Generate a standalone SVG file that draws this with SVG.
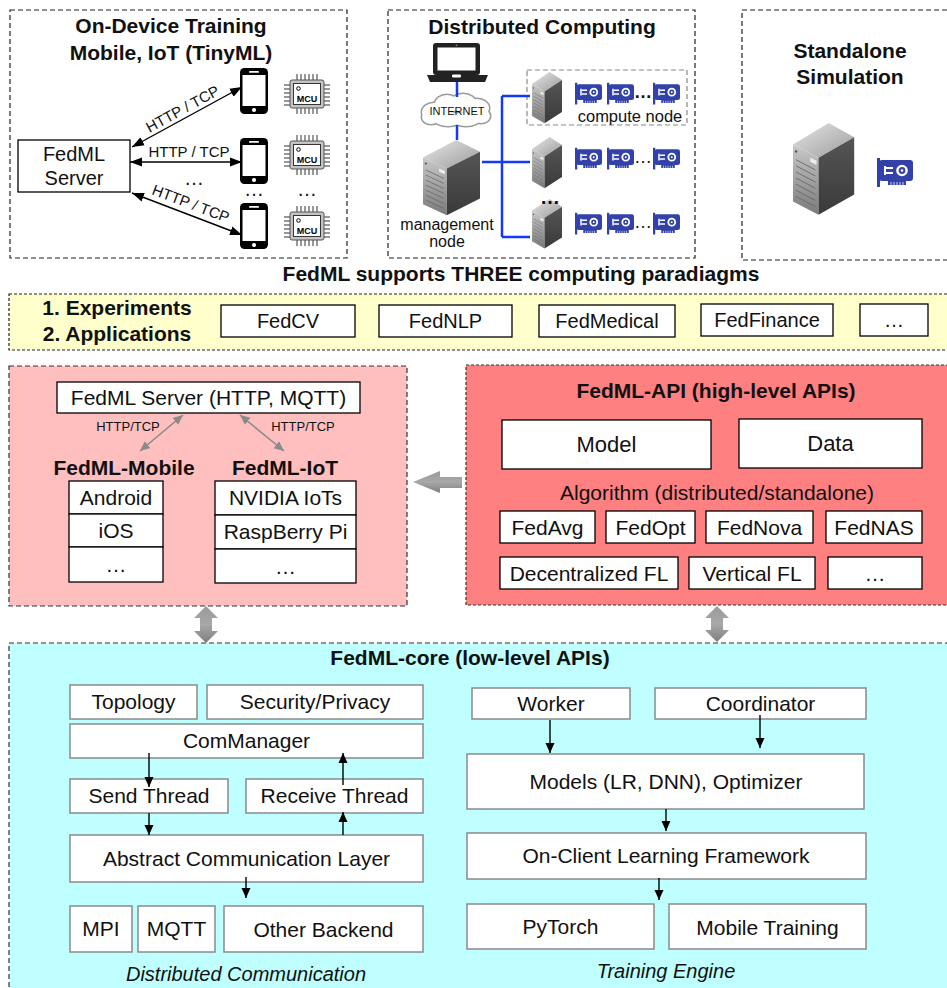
<svg xmlns="http://www.w3.org/2000/svg" xmlns:xlink="http://www.w3.org/1999/xlink" width="947" height="988" viewBox="0 0 947 988">
<style>
.dash{fill:none;stroke:#222;stroke-width:1.2;stroke-dasharray:5 3}
.box{fill:#fff;stroke:#000;stroke-width:1.3}
.gbox{fill:#fff;stroke:#8a8a8a;stroke-width:1.5}
.t{font-family:"Liberation Sans",Arial,Helvetica,sans-serif;font-size:21px;text-anchor:middle;fill:#111}
.s{font-size:16px}
.b{font-weight:bold}
.i{font-style:italic}
.blue{stroke:#1238ff;stroke-width:2.5;fill:none}
.ar{stroke:#000;stroke-width:1.4;fill:none}
.ga{stroke:#8a8a8a;stroke-width:1.6;fill:none}
.big{fill:url(#grayG);stroke:#7a7a7a;stroke-width:0.8}
</style>
<defs>
<marker id="ah" viewBox="0 0 10 10" refX="10" refY="5" markerWidth="10" markerHeight="10" markerUnits="userSpaceOnUse" orient="auto-start-reverse"><path d="M0,0.5 L10,5 L0,9.5 z" fill="#000"/></marker>
<marker id="ah2" viewBox="0 0 12 10" refX="12" refY="5" markerWidth="12" markerHeight="10" markerUnits="userSpaceOnUse" orient="auto-start-reverse"><path d="M0,0.5 L12,5 L0,9.5 z" fill="#000"/></marker>
<marker id="gh" viewBox="0 0 10 10" refX="10" refY="5" markerWidth="10" markerHeight="10" markerUnits="userSpaceOnUse" orient="auto-start-reverse"><path d="M0,0.5 L10,5 L0,9.5 z" fill="#8a8a8a"/></marker>
<linearGradient id="grayG" x1="0" y1="0" x2="0" y2="1"><stop offset="0" stop-color="#b4b4b4"/><stop offset="1" stop-color="#868686"/></linearGradient>
<linearGradient id="grayH" x1="0" y1="0" x2="0" y2="1"><stop offset="0" stop-color="#9a9a9a"/><stop offset="0.5" stop-color="#a8a8a8"/><stop offset="1" stop-color="#7e7e7e"/></linearGradient>
<linearGradient id="srvTop" x1="0" y1="0" x2="1" y2="1"><stop offset="0" stop-color="#e6e6e6"/><stop offset="1" stop-color="#9c9c9c"/></linearGradient>
<linearGradient id="srvFront" x1="0" y1="0" x2="0" y2="1"><stop offset="0" stop-color="#c8c8c8"/><stop offset="1" stop-color="#7a7a7a"/></linearGradient>
<linearGradient id="srvSide" x1="0" y1="0" x2="0" y2="1"><stop offset="0" stop-color="#555"/><stop offset="1" stop-color="#3a3a3a"/></linearGradient>
<g id="server">
<path d="M0,21 L35,0 L60,14 L25,34 Z" fill="url(#srvTop)"/>
<path d="M0,21 L25,34 L25,90 L0,77 Z" fill="url(#srvFront)"/>
<path d="M25,34 L60,14 L60,70 L25,90 Z" fill="url(#srvSide)"/>
<g stroke="#6a6a6a" stroke-width="0.9">
<line x1="3" y1="36" x2="22" y2="46"/><line x1="3" y1="42" x2="22" y2="52"/><line x1="3" y1="48" x2="22" y2="58"/><line x1="3" y1="54" x2="22" y2="64"/><line x1="3" y1="60" x2="22" y2="70"/><line x1="3" y1="66" x2="22" y2="76"/><line x1="3" y1="72" x2="22" y2="82"/>
</g>
<path d="M17,34 L23,37 L23,41 L17,38 Z" fill="#eee"/>
<circle cx="3" cy="28" r="1.2" fill="#555"/>
</g>
<g id="gpu">
<path d="M0,1 L3,1 L3,30 L0,30 Z" fill="#3242a8"/>
<rect x="2" y="3" width="34" height="21" rx="3" fill="#3242a8"/>
<rect x="11" y="23" width="18" height="5" fill="#3242a8"/>
<g stroke="#fff" stroke-width="0.8"><line x1="14" y1="25" x2="14" y2="28"/><line x1="17" y1="25" x2="17" y2="28"/><line x1="20" y1="25" x2="20" y2="28"/><line x1="23" y1="25" x2="23" y2="28"/><line x1="26" y1="25" x2="26" y2="28"/></g>
<rect x="7" y="9" width="2" height="9" fill="#fff"/>
<rect x="9" y="10" width="7" height="2" fill="#fff"/>
<rect x="9" y="15" width="7" height="2" fill="#fff"/>
<circle cx="25" cy="13.5" r="4.6" fill="none" stroke="#fff" stroke-width="2.4"/>
<circle cx="25" cy="13.5" r="1.3" fill="#fff"/>
</g>
<g id="phone">
<rect x="0" y="0" width="28" height="46" rx="4.5" fill="#000"/>
<rect x="2.5" y="7" width="23" height="31" fill="#fff"/>
<rect x="9" y="3" width="10" height="1.8" rx="0.9" fill="#fff"/>
<circle cx="14" cy="42" r="2.1" fill="#fff"/>
</g>
<g id="mcu">
<g stroke="#555" stroke-width="1.2">
<line x1="13" y1="0" x2="13" y2="7"/><line x1="17" y1="0" x2="17" y2="7"/><line x1="21" y1="0" x2="21" y2="7"/><line x1="25" y1="0" x2="25" y2="7"/><line x1="29" y1="0" x2="29" y2="7"/><line x1="33" y1="0" x2="33" y2="7"/>
<line x1="13" y1="33" x2="13" y2="40"/><line x1="17" y1="33" x2="17" y2="40"/><line x1="21" y1="33" x2="21" y2="40"/><line x1="25" y1="33" x2="25" y2="40"/><line x1="29" y1="33" x2="29" y2="40"/><line x1="33" y1="33" x2="33" y2="40"/>
<line x1="0" y1="11" x2="7" y2="11"/><line x1="0" y1="15" x2="7" y2="15"/><line x1="0" y1="19" x2="7" y2="19"/><line x1="0" y1="23" x2="7" y2="23"/><line x1="0" y1="27" x2="7" y2="27"/><line x1="0" y1="31" x2="7" y2="31"/>
<line x1="39" y1="11" x2="46" y2="11"/><line x1="39" y1="15" x2="46" y2="15"/><line x1="39" y1="19" x2="46" y2="19"/><line x1="39" y1="23" x2="46" y2="23"/><line x1="39" y1="27" x2="46" y2="27"/><line x1="39" y1="31" x2="46" y2="31"/>
</g>
<rect x="6" y="6" width="34" height="28" rx="2" fill="#c4c4c4" stroke="#555" stroke-width="1"/>
<rect x="9.5" y="9.5" width="27" height="21" fill="#fff" stroke="#333" stroke-width="1"/>
<circle cx="14.5" cy="14.5" r="1.8" fill="none" stroke="#000" stroke-width="1"/>
<text x="23" y="27.5" style="font-family:'Liberation Sans',Arial,sans-serif;font-size:9px;font-weight:bold;text-anchor:middle">MCU</text>
</g>
</defs>

<rect width="947" height="988" fill="#fff"/>

<!-- Panel: On-Device Training -->
<g id="panel-ondevice">
<rect class="dash" x="10" y="10" width="337" height="248"/>
<text class="t b" x="171" y="33">On-Device Training</text>
<text class="t b" x="171" y="60">Mobile, IoT (TinyML)</text>
</g>
<g id="fedml-server">
<rect class="box" x="18" y="140" width="112" height="52"/>
<text class="t" x="74" y="161" style="font-size:20px">FedML</text>
<text class="t" x="74" y="185" style="font-size:20px">Server</text>
</g>
<g id="devices">
<use xlink:href="#phone" x="240" y="68"/>
<use xlink:href="#phone" x="240" y="138"/>
<use xlink:href="#phone" x="240" y="203"/>
<use xlink:href="#mcu" x="284" y="74"/>
<use xlink:href="#mcu" x="284" y="135"/>
<use xlink:href="#mcu" x="284" y="206"/>
<text class="t" x="194" y="185" style="font-size:20px">…</text>
<text class="t" x="254" y="196" style="font-size:20px">…</text>
<text class="t" x="307" y="196" style="font-size:20px">…</text>
</g>

<!-- Panel: Distributed Computing -->
<g id="panel-distributed">
<rect class="dash" x="388" y="10" width="307" height="248"/>
<text class="t b" x="542" y="34">Distributed Computing</text>
</g>
<g id="laptop">
<rect x="433" y="43" width="47" height="32" rx="3" fill="#222"/>
<rect x="437.5" y="47.5" width="38" height="23" fill="#fff"/>
<circle cx="456.5" cy="45.3" r="0.9" fill="#888"/>
<path d="M427,75 L488,75 L485,82 L430,82 Z" fill="#222"/>
<rect x="452" y="74.5" width="9" height="3" rx="1.2" fill="#fff"/>
</g>
<g id="internet">
<g fill="#fff" stroke="#9a9a9a" stroke-width="3">
<ellipse cx="434" cy="112" rx="12" ry="9"/><ellipse cx="447" cy="104" rx="12" ry="9"/><ellipse cx="463" cy="103" rx="13" ry="9"/><ellipse cx="477" cy="108" rx="12" ry="9"/><ellipse cx="481" cy="116" rx="9" ry="7"/><ellipse cx="466" cy="119" rx="14" ry="7"/><ellipse cx="448" cy="119" rx="14" ry="7"/><ellipse cx="431" cy="117" rx="9" ry="7"/>
</g>
<g fill="#fff">
<ellipse cx="434" cy="112" rx="12" ry="9"/><ellipse cx="447" cy="104" rx="12" ry="9"/><ellipse cx="463" cy="103" rx="13" ry="9"/><ellipse cx="477" cy="108" rx="12" ry="9"/><ellipse cx="481" cy="116" rx="9" ry="7"/><ellipse cx="466" cy="119" rx="14" ry="7"/><ellipse cx="448" cy="119" rx="14" ry="7"/><ellipse cx="431" cy="117" rx="9" ry="7"/>
</g>
<text class="t" x="457" y="115" style="font-size:11px">INTERNET</text>
</g>
<g id="management-node">
<use xlink:href="#server" transform="translate(423,140) scale(0.95,0.835)"/>
<text class="t s" x="447" y="230">management</text>
<text class="t s" x="447" y="247">node</text>
</g>
<g id="compute-nodes">
<rect x="527" y="70" width="160" height="55" fill="none" stroke="#888" stroke-width="1.2" stroke-dasharray="5 3"/>
<use xlink:href="#server" transform="translate(532,72) scale(0.5,0.57)"/>
<use xlink:href="#server" transform="translate(532,137) scale(0.5,0.57)"/>
<use xlink:href="#server" transform="translate(532,199) scale(0.5,0.55)"/>
<use xlink:href="#gpu" transform="translate(575,82) scale(0.75)"/>
<use xlink:href="#gpu" transform="translate(607,82) scale(0.75)"/>
<use xlink:href="#gpu" transform="translate(653,82) scale(0.75)"/>
<use xlink:href="#gpu" transform="translate(575,147) scale(0.75)"/>
<use xlink:href="#gpu" transform="translate(607,147) scale(0.75)"/>
<use xlink:href="#gpu" transform="translate(653,147) scale(0.75)"/>
<use xlink:href="#gpu" transform="translate(575,212) scale(0.75)"/>
<use xlink:href="#gpu" transform="translate(607,212) scale(0.75)"/>
<use xlink:href="#gpu" transform="translate(653,212) scale(0.75)"/>
<text class="t b" x="643" y="98" style="font-size:18px">…</text>
<text class="t" x="643" y="163" style="font-size:18px">…</text>
<text class="t" x="643" y="228" style="font-size:18px">…</text>
<text class="t b" x="550" y="204" style="font-size:20px">…</text>
<text class="t s" x="630" y="122" style="font-size:16.5px">compute node</text>
</g>

<!-- Panel: Standalone Simulation -->
<g id="panel-standalone">
<rect class="dash" x="742" y="10" width="230" height="250"/>
<text class="t b" x="850" y="58">Standalone</text>
<text class="t b" x="850" y="84">Simulation</text>
<use xlink:href="#server" transform="translate(793,123) scale(1.02,1.02)"/>
<use xlink:href="#gpu" x="877" y="157"/>
</g>

<text id="paradigms" class="t b" x="521" y="281">FedML supports THREE computing paradiagms</text>

<!-- Experiments / Applications -->
<g id="apps">
<rect x="9" y="294" width="960" height="56" fill="#ffffcc" stroke="#222" stroke-width="1.2" stroke-dasharray="3 2"/>
<text class="t b" x="117" y="315">1. Experiments</text>
<text class="t b" x="117" y="341">2. Applications</text>
<g id="fedcv"><rect class="box" x="221" y="305" width="134" height="32"/><text class="t" x="288" y="328" style="font-size:20px">FedCV</text></g>
<g id="fednlp"><rect class="box" x="379" y="305" width="133" height="32"/><text class="t" x="445.5" y="328" style="font-size:20px">FedNLP</text></g>
<g id="fedmedical"><rect class="box" x="539" y="305" width="136" height="32"/><text class="t" x="607" y="328" style="font-size:20px">FedMedical</text></g>
<g id="fedfinance"><rect class="box" x="701" y="304" width="132" height="32"/><text class="t" x="767" y="327" style="font-size:20px">FedFinance</text></g>
<g id="apps-more"><rect class="box" x="860" y="304" width="68" height="32"/><text class="t" x="894" y="327" style="font-size:20px">…</text></g>
</g>

<!-- Pink panel: Mobile / IoT -->
<g id="panel-mobile-iot">
<rect x="9" y="366" width="398" height="240" fill="#ffbfbf" stroke="#333" stroke-width="1.2" stroke-dasharray="5 3"/>
<g id="server-http"><rect class="box" x="57" y="382" width="303" height="31"/><text class="t" x="208.5" y="405">FedML Server (HTTP, MQTT)</text></g>
<text class="t" x="128" y="431" style="font-size:13px">HTTP/TCP</text>
<text class="t" x="303" y="431" style="font-size:13px">HTTP/TCP</text>
<text class="t b" x="124" y="475">FedML-Mobile</text>
<text class="t b" x="285" y="475">FedML-IoT</text>
<g id="mobile-stack">
<rect class="box" x="69" y="481" width="94" height="33"/><text class="t" x="116" y="505">Android</text>
<rect class="box" x="69" y="514" width="94" height="33"/><text class="t" x="116" y="538">iOS</text>
<rect class="box" x="69" y="547" width="94" height="35"/><text class="t" x="116" y="572">…</text>
</g>
<g id="iot-stack">
<rect class="box" x="215" y="481" width="141" height="34"/><text class="t" x="285.5" y="505">NVIDIA IoTs</text>
<rect class="box" x="215" y="515" width="141" height="34"/><text class="t" x="285.5" y="539">RaspBerry Pi</text>
<rect class="box" x="215" y="549" width="141" height="34"/><text class="t" x="285.5" y="574">…</text>
</g>
</g>

<!-- Red panel: FedML-API -->
<g id="panel-api">
<rect x="466" y="365" width="500" height="240" fill="#ff8080" stroke="#333" stroke-width="1.2" stroke-dasharray="3 2"/>
<text class="t b" x="716" y="398">FedML-API (high-level APIs)</text>
<g id="model"><rect class="box" x="502" y="420" width="209" height="49"/><text class="t" x="606.5" y="452" style="font-size:22px">Model</text></g>
<g id="data"><rect class="box" x="739" y="419" width="183" height="49"/><text class="t" x="830.5" y="451" style="font-size:22px">Data</text></g>
<text class="t" x="717" y="500">Algorithm (distributed/standalone)</text>
<g id="fedavg"><rect class="box" x="500" y="511" width="95" height="32"/><text class="t" x="547.5" y="535">FedAvg</text></g>
<g id="fedopt"><rect class="box" x="606" y="511" width="89" height="32"/><text class="t" x="650.5" y="535">FedOpt</text></g>
<g id="fednova"><rect class="box" x="706" y="511" width="107" height="32"/><text class="t" x="759.5" y="535">FedNova</text></g>
<g id="fednas"><rect class="box" x="826" y="511" width="96" height="32"/><text class="t" x="874" y="535">FedNAS</text></g>
<g id="decentralized"><rect class="box" x="500" y="557" width="178" height="32"/><text class="t" x="589" y="581">Decentralized FL</text></g>
<g id="vertical"><rect class="box" x="689" y="557" width="126" height="32"/><text class="t" x="752" y="581">Vertical FL</text></g>
<g id="algo-more"><rect class="box" x="828" y="557" width="94" height="32"/><text class="t" x="875" y="581">…</text></g>
</g>

<!-- Cyan panel: FedML-core -->
<g id="panel-core">
<rect x="9" y="643" width="960" height="360" fill="#bfffff" stroke="#333" stroke-width="1.2" stroke-dasharray="5 3"/>
<text class="t b" x="470" y="665">FedML-core (low-level APIs)</text>
<g id="topology"><rect class="gbox" x="70" y="685" width="127" height="34"/><text class="t" x="133.5" y="709">Topology</text></g>
<g id="security"><rect class="gbox" x="207" y="685" width="216" height="34"/><text class="t" x="315" y="709">Security/Privacy</text></g>
<g id="commanager"><rect class="gbox" x="70" y="724" width="353" height="34"/><text class="t" x="246.5" y="748">ComManager</text></g>
<g id="send-thread"><rect class="gbox" x="70" y="779" width="158" height="34"/><text class="t" x="149" y="803">Send Thread</text></g>
<g id="receive-thread"><rect class="gbox" x="246" y="779" width="177" height="34"/><text class="t" x="334.5" y="803">Receive Thread</text></g>
<g id="abstract-layer"><rect class="gbox" x="70" y="835" width="353" height="47"/><text class="t" x="246.5" y="866">Abstract Communication Layer</text></g>
<g id="mpi"><rect class="gbox" x="70" y="906" width="62" height="46"/><text class="t" x="101" y="936">MPI</text></g>
<g id="mqtt"><rect class="gbox" x="138" y="906" width="77" height="46"/><text class="t" x="176.5" y="936">MQTT</text></g>
<g id="other-backend"><rect class="gbox" x="224" y="906" width="199" height="46"/><text class="t" x="323.5" y="937">Other Backend</text></g>
<text class="t i" x="246" y="981" style="font-size:20px">Distributed Communication</text>
<g id="worker"><rect class="gbox" x="472" y="688" width="158" height="31"/><text class="t" x="551" y="711">Worker</text></g>
<g id="coordinator"><rect class="gbox" x="655" y="688" width="211" height="31"/><text class="t" x="760.5" y="711">Coordinator</text></g>
<g id="models"><rect class="gbox" x="467" y="754" width="397" height="55"/><text class="t" x="666" y="789">Models (LR, DNN), Optimizer</text></g>
<g id="onclient"><rect class="gbox" x="467" y="833" width="399" height="46"/><text class="t" x="666" y="863">On-Client Learning Framework</text></g>
<g id="pytorch"><rect class="gbox" x="467" y="904" width="187" height="45"/><text class="t" x="560.5" y="934">PyTorch</text></g>
<g id="mobile-training"><rect class="gbox" x="669" y="904" width="197" height="45"/><text class="t" x="767.5" y="935">Mobile Training</text></g>
<text class="t i" x="666" y="978" style="font-size:20px">Training Engine</text>
</g>

<!-- Connectors -->
<g id="connectors">
<line class="ar" x1="132" y1="147" x2="242" y2="87" marker-start="url(#ah2)" marker-end="url(#ah2)"/>
<line class="ar" x1="130" y1="162" x2="242" y2="162" marker-start="url(#ah2)" marker-end="url(#ah2)"/>
<line class="ar" x1="132" y1="193" x2="242" y2="235" marker-start="url(#ah2)" marker-end="url(#ah2)"/>
<text class="t" x="185" y="113.5" style="font-size:15px" transform="rotate(-28.6 185 113.5)">HTTP / TCP</text>
<text class="t" x="189" y="157" style="font-size:15px">HTTP / TCP</text>
<text class="t" x="189" y="208.4" style="font-size:15px" transform="rotate(20.9 189 208.4)">HTTP / TCP</text>

<line class="blue" x1="457" y1="82" x2="457" y2="97"/>
<line class="blue" x1="457" y1="125" x2="457" y2="140"/>
<polyline class="blue" points="482,162 502,162"/>
<line class="blue" x1="502" y1="96" x2="502" y2="237"/>
<line class="blue" x1="502" y1="96" x2="530" y2="96"/>
<line class="blue" x1="502" y1="162" x2="530" y2="162"/>
<line class="blue" x1="502" y1="237" x2="530" y2="237"/>

<line class="ga" x1="183" y1="415" x2="140" y2="451" marker-start="url(#gh)" marker-end="url(#gh)"/>
<line class="ga" x1="240" y1="415" x2="284" y2="451" marker-start="url(#gh)" marker-end="url(#gh)"/>

<polygon fill="url(#grayH)" points="413,482 440,471 440,477 462,477 462,488 440,488 440,493"/>
<polygon fill="url(#grayH)" points="206,606 218,618 212,618 212,631 218,631 206,643 194,631 200,631 200,618 194,618"/>
<polygon fill="url(#grayH)" points="717,606 729,618 723,618 723,630 729,630 717,642 705,630 711,630 711,618 705,618"/>

<line class="ar" x1="149" y1="753" x2="149" y2="787" marker-end="url(#ah)"/>
<line class="ar" x1="149" y1="813" x2="149" y2="835" marker-end="url(#ah)"/>
<line class="ar" x1="343" y1="785" x2="343" y2="753" marker-end="url(#ah)"/>
<line class="ar" x1="343" y1="835" x2="343" y2="812" marker-end="url(#ah)"/>
<line class="ar" x1="246" y1="877" x2="246" y2="898" marker-end="url(#ah)"/>
<line class="ar" x1="550" y1="720" x2="550" y2="753" marker-end="url(#ah)"/>
<line class="ar" x1="760" y1="715" x2="760" y2="748" marker-end="url(#ah)"/>
<line class="ar" x1="666" y1="809" x2="666" y2="831" marker-end="url(#ah)"/>
<line class="ar" x1="659" y1="878" x2="659" y2="900" marker-end="url(#ah)"/>
</g>
</svg>
